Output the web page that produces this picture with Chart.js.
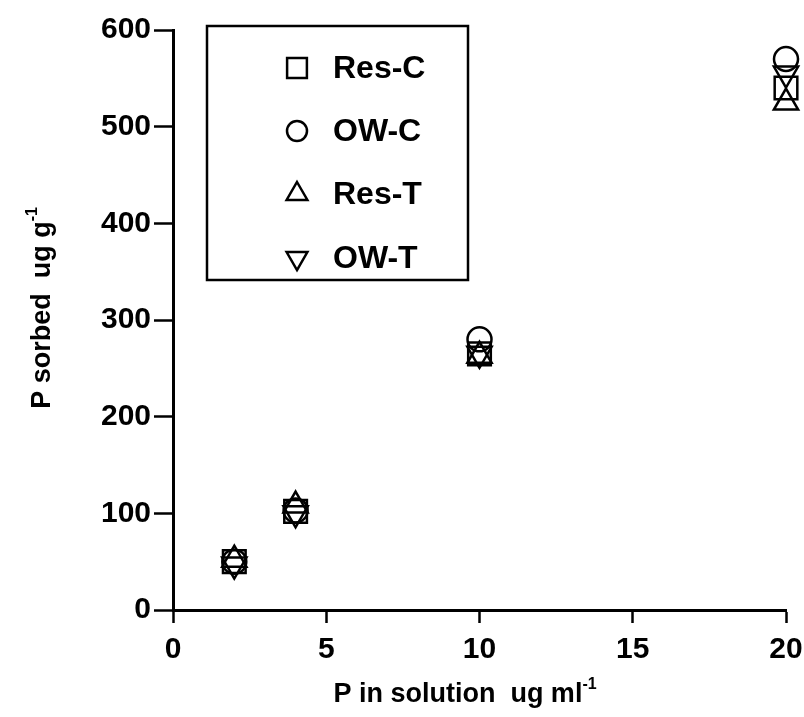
<!DOCTYPE html>
<html>
<head>
<meta charset="utf-8">
<script src="https://cdn.jsdelivr.net/npm/chart.js@4"></script>
<style>
  html, body { margin: 0; padding: 0; background: #fff; }
  #wrap { width: 804px; height: 717px; }
</style>
</head>
<body>
<div id="wrap"><canvas id="chart" width="804" height="717"></canvas></div>
<script>
// P sorbed vs P in solution
const concentrations = [2, 4, 10, 20];
const resC = [50, 102, 265, 540];
const owC = [50, 103, 280, 570];
const resT = [52, 108, 263, 525];
const owT = [47, 100, 265, 555];
const xTicks = [0, 5, 10, 15, 20];
const yTicks = [0, 100, 200, 300, 400, 500, 600];

const FONT = '"Liberation Sans", Arial, sans-serif';

function series(label, values, style, radius, rotation) {
    return {
        label: label,
        data: concentrations.map((x, i) => ({ x: x, y: values[i] })),
        pointStyle: style,
        pointRadius: radius,
        pointRotation: rotation || 0,
        pointBorderWidth: 2.5,
        borderColor: '#000',
        backgroundColor: 'rgba(0,0,0,0)',
        showLine: false,
        clip: false
    };
}

// draws a marker shape, used by the legend box
function drawMarker(ctx, style, x, y, r, rot) {
    ctx.beginPath();
    if (style === 'circle') {
        ctx.arc(x, y, r, 0, Math.PI * 2);
    } else if (style === 'rect') {
        const s = r * Math.SQRT1_2;
        ctx.rect(x - s, y - s, 2 * s, 2 * s);
    } else {
        const dir = rot ? -1 : 1;
        ctx.moveTo(x, y - dir * r);
        ctx.lineTo(x + r * 0.866, y + dir * r * 0.5);
        ctx.lineTo(x - r * 0.866, y + dir * r * 0.5);
        ctx.closePath();
    }
    ctx.stroke();
}

const boxLegend = {
    id: 'boxLegend',
    afterDraw(chart) {
        const ctx = chart.ctx;
        const left = 207, top = 26, w = 261, h = 254;
        ctx.save();
        ctx.strokeStyle = '#000';
        ctx.lineWidth = 2.5;
        ctx.strokeRect(left, top, w, h);
        ctx.font = 'bold 32px ' + FONT;
        ctx.fillStyle = '#000';
        ctx.textBaseline = 'middle';
        const rows = [68, 131, 194, 258];
        chart.data.datasets.forEach((ds, i) => {
            const y = rows[i];
            ctx.lineWidth = 2.5;
            const r = ds.pointStyle === 'circle' ? 10 : (ds.pointStyle === 'rect' ? 14 : 12);
            drawMarker(ctx, ds.pointStyle, 297, y, r, ds.pointRotation);
            ctx.fillText(ds.label, 333, y + 1);
        });
        ctx.restore();
    }
};

// axis titles with superscripts
const axisTitles = {
    id: 'axisTitles',
    afterDraw(chart) {
        const ctx = chart.ctx;
        ctx.save();
        ctx.fillStyle = '#000';
        ctx.textBaseline = 'alphabetic';
        const big = 'bold 27px ' + FONT;
        const small = 'bold 16px ' + FONT;

        function drawWithSup(text, sup, cx, cy) {
            ctx.font = big;
            const w1 = ctx.measureText(text).width;
            ctx.font = small;
            const w2 = ctx.measureText(sup).width;
            const start = cx - (w1 + w2) / 2;
            ctx.font = big;
            ctx.textAlign = 'left';
            ctx.fillText(text, start, cy);
            ctx.font = small;
            ctx.fillText(sup, start + w1, cy - 13);
        }

        drawWithSup('P in solution  ug ml', '-1', 465, 702);

        ctx.translate(50, 308);
        ctx.rotate(-Math.PI / 2);
        drawWithSup('P sorbed  ug g', '-1', 0, 0);
        ctx.restore();
    }
};

const chart = new Chart(document.getElementById('chart'), {
    type: 'scatter',
    data: {
        datasets: [
            series('Res-C', resC, 'rect', 16),
            series('OW-C', owC, 'circle', 12),
            series('Res-T', resT, 'triangle', 14),
            series('OW-T', owT, 'triangle', 14, 180)
        ]
    },
    options: {
        responsive: false,
        animation: false,
        layout: { autoPadding: false, padding: { top: 30, right: 18, left: 0, bottom: 0 } },
        plugins: {
            legend: { display: false },
            tooltip: { enabled: false }
        },
        scales: {
            x: {
                type: 'linear',
                min: 0,
                max: 20,
                afterBuildTicks: s => { s.ticks = xTicks.map(v => ({ value: v })); },
                afterFit: s => { s.height = 107; s.paddingRight = 0; s.paddingLeft = 0; },
                grid: { drawOnChartArea: false, drawTicks: true, tickLength: 13, tickWidth: 2.5, tickColor: '#000' },
                border: { color: '#000', width: 3 },
                ticks: { color: '#000', font: { family: FONT, size: 30, weight: 'bold' }, padding: 9, maxRotation: 0 }
            },
            y: {
                type: 'linear',
                min: 0,
                max: 600,
                afterBuildTicks: s => { s.ticks = yTicks.map(v => ({ value: v })); },
                afterFit: s => { s.width = 173; s.paddingTop = 0; s.paddingBottom = 0; },
                grid: { drawOnChartArea: false, drawTicks: true, tickLength: 19, tickWidth: 2.5, tickColor: '#000' },
                border: { color: '#000', width: 3 },
                ticks: { color: '#000', font: { family: FONT, size: 30, weight: 'bold' }, padding: 3 }
            }
        }
    },
    plugins: [boxLegend, axisTitles]
});
</script>
</body>
</html>
